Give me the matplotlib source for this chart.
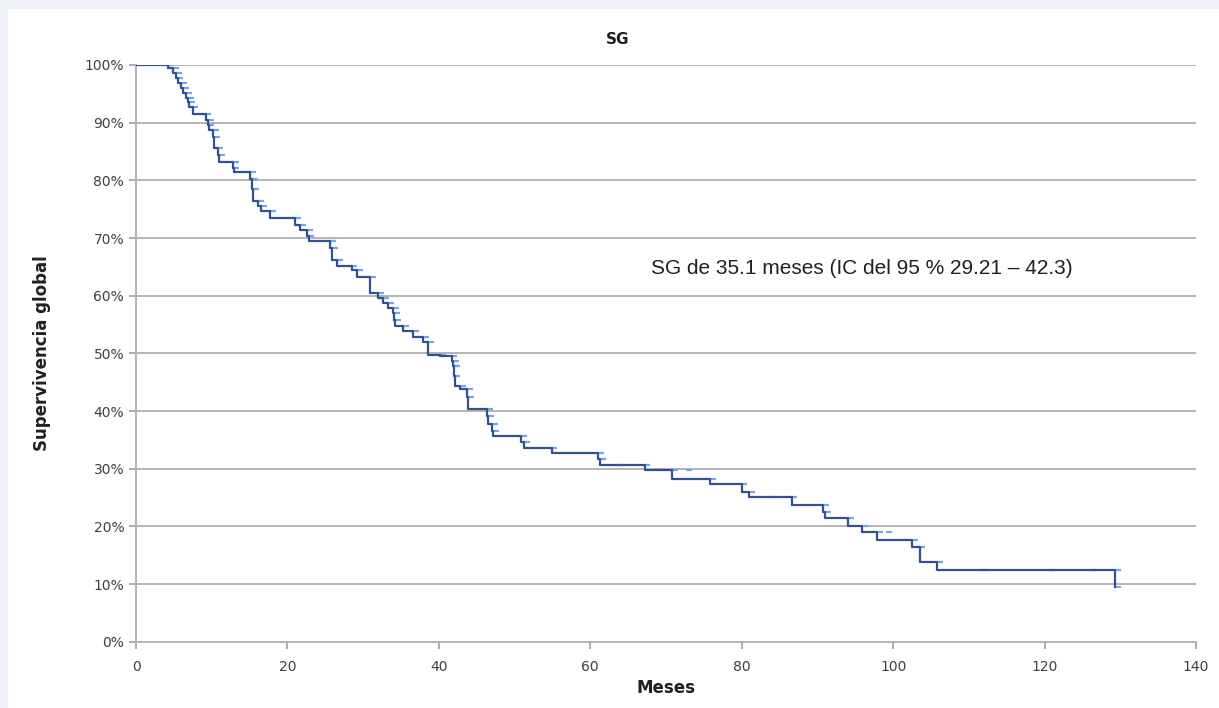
import matplotlib.pyplot as plt
import numpy as np

# Kaplan-Meier steps (months, % surviving after the event)
event_t = [0, 4.2, 4.9, 5.3, 5.5, 6.0, 6.2, 6.6, 6.9, 7.0, 7.5,
           9.2, 9.5, 9.6, 10.2, 10.3, 10.8, 11.0, 12.8, 12.9,
           15.1, 15.3, 15.5, 16.1, 16.5, 17.7, 21.0, 21.7, 22.6, 22.8,
           25.6, 25.9, 26.6, 28.5, 29.2, 30.9, 32.0, 32.6, 33.3, 34.0,
           34.1, 34.2, 35.3, 36.6, 37.9, 38.6, 40.2, 41.7, 41.9, 42.0,
           42.1, 42.8, 43.7, 43.9, 46.4, 46.5, 47.0, 47.2, 50.9, 51.3,
           54.9, 61.0, 61.3, 67.2, 70.8, 75.8, 80.0, 81.0, 86.6, 90.8,
           91.0, 94.1, 95.9, 97.9, 102.5, 103.5, 105.8, 129.3]
surv = [100, 99.4, 98.6, 97.7, 96.9, 96.0, 95.1, 94.3, 93.6, 92.7, 91.5,
        90.5, 89.6, 88.7, 87.5, 85.6, 84.4, 83.2, 82.1, 81.5,
        80.3, 78.5, 76.5, 75.5, 74.6, 73.4, 72.2, 71.4, 70.3, 69.5,
        68.3, 66.2, 65.2, 64.4, 63.2, 60.4, 59.6, 58.7, 57.8, 57.0,
        55.8, 54.7, 53.8, 52.8, 51.9, 49.8, 49.5, 48.6, 47.8, 46.0,
        44.3, 43.8, 42.4, 40.3, 39.1, 37.7, 36.5, 35.6, 34.6, 33.6,
        32.7, 31.7, 30.6, 29.8, 28.2, 27.3, 26.0, 25.1, 23.7, 22.5,
        21.4, 20.1, 19.0, 17.6, 16.4, 13.8, 12.5, 9.5]

# censored observations (light blue ticks on flat parts)
cens_t = [64.0, 73.0, 84.0, 99.5, 112.0, 121.0, 126.5]
cens_s = [30.6, 29.8, 25.1, 19.0, 12.5, 12.5, 12.5]

yticks = [0, 10, 20, 30, 40, 50, 60, 70, 80, 90, 100]
xticks = [0, 20, 40, 60, 80, 100, 120, 140]

fig = plt.figure(figsize=(12.19, 7.08), dpi=100)
fig.patch.set_facecolor('white')
# light frame at the top and left edge
fig.patches.append(plt.Rectangle((0, 1 - 8/708), 1, 8/708, transform=fig.transFigure,
                                 color='#eef2f6', zorder=0))
fig.patches.append(plt.Rectangle((0, 0), 7/1219, 1, transform=fig.transFigure,
                                 color='#eef2f6', zorder=0))

ax = fig.add_axes([0.1116, 0.0936, 0.8695, 0.8146])

# light blue ticks at each corner, then dark line on top
ax.plot(np.array(event_t[1:]) + 0.35, surv[:-1], linestyle='none', marker='_',
        markersize=5, markeredgewidth=1.6, color='#6fa8f0', zorder=3)
ax.plot(np.array(event_t[1:]) + 0.35, surv[1:], linestyle='none', marker='_',
        markersize=4, markeredgewidth=1.4, color='#6fa8f0', zorder=3)
ax.plot(cens_t, cens_s, linestyle='none', marker='_', markersize=5,
        markeredgewidth=1.6, color='#6fa8f0', zorder=3)
ax.step(event_t, surv, where='post', color='#33518f', linewidth=1.6, zorder=4)

ax.set_xlim(0, 140)
ax.set_ylim(0, 100)
ax.set_xticks(xticks)
ax.set_yticks(yticks)
ax.set_yticklabels([f'{v}%' for v in yticks])
ax.tick_params(axis='both', colors='#a0a0a0', labelcolor='#404040', labelsize=10,
               length=5, width=1.2, direction='out')
ax.tick_params(axis='x', pad=8)
ax.grid(axis='y', color='#b4b4b4', linewidth=1.4)
ax.set_axisbelow(True)
for s in ['top', 'right']:
    ax.spines[s].set_visible(False)
for s in ['left', 'bottom']:
    ax.spines[s].set_color('#b4b4b4')
    ax.spines[s].set_linewidth(1.4)

fig.text(618/1219, 1 - 40/708, 'SG', fontsize=11, fontweight='bold', color='#202020',
         ha='center', va='center')
ax.set_xlabel('Meses', fontsize=12, fontweight='bold', color='#202020', labelpad=4)
ax.set_ylabel('Supervivencia global', fontsize=12, fontweight='bold', color='#202020',
              labelpad=24)

ax.text(68, 64.8, 'SG de 35.1 meses (IC del 95 % 29.21 \u2013 42.3)',
        fontsize=15, family='Liberation Sans', color='#202020', va='center')

fig.savefig('out.png', dpi=100)
